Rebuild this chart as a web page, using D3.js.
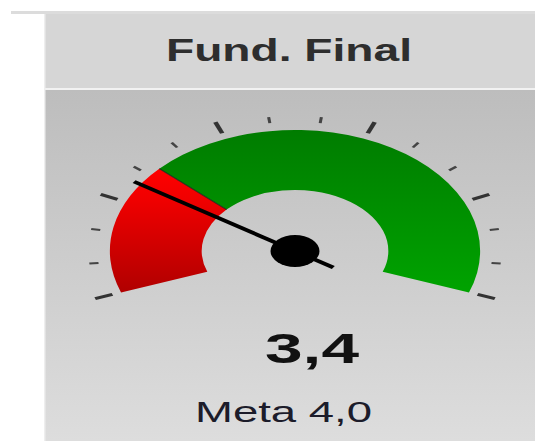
<!DOCTYPE html>
<html>
<head>
<meta charset="utf-8">
<script src="https://cdn.jsdelivr.net/npm/d3@7"></script>
<style>
  html, body { margin: 0; padding: 0; background: #fff; }
  svg { display: block; }
</style>
</head>
<body>
<svg id="chart"></svg>
<script>
// gauge data
const title = 'Fund. Final';
const scaleRange = [0, 14];
const bandLimits = [0, 4, 14];     // red up to the target, green after
const bandNames = ['below', 'above'];
const currentValue = [3.4];
const targetValue = [4.0];
const valueLabel = ['3,4'];
const targetLabel = ['Meta 4,0'];

const W = 535, H = 441;
const sx = 1.53;                  // the picture is stretched sideways
const vw = W / sx;

const svg = d3.select('#chart')
  .attr('width', W)
  .attr('height', H)
  .attr('viewBox', `0 0 ${vw} ${H}`)
  .attr('preserveAspectRatio', 'none');

const defs = svg.append('defs');

function vGrad(id, stops) {
  const g = defs.append('linearGradient')
    .attr('id', id)
    .attr('x1', 0).attr('y1', 0).attr('x2', 0).attr('y2', 1);
  stops.forEach(s => g.append('stop').attr('offset', s[0]).attr('stop-color', s[1]));
}
vGrad('bodyGrad', [[0, '#bdbdbd'], [1, '#dddddd']]);
vGrad('redGrad', [[0, '#ff0000'], [0.25, '#f00000'], [1, '#b00000']]);
vGrad('greenGrad', [[0, '#007c00'], [1, '#00a300']]);

// panel background
const left = 44 / sx;
svg.append('rect').attr('x', 11 / sx).attr('y', 11).attr('width', vw).attr('height', 3).attr('fill', '#dcdcdc');
svg.append('rect').attr('x', left).attr('y', 14).attr('width', vw).attr('height', 74).attr('fill', '#d6d6d6');
svg.append('rect').attr('x', left).attr('y', 88).attr('width', vw).attr('height', 2).attr('fill', '#f2f2f2');
svg.append('rect').attr('x', left).attr('y', 90).attr('width', vw).attr('height', H - 90).attr('fill', 'url(#bodyGrad)');
svg.append('rect').attr('x', left).attr('y', 14).attr('width', 1.5 / sx).attr('height', H - 14).attr('fill', '#eeeeee');

svg.append('text')
  .attr('x', 289 / sx).attr('y', 61)
  .attr('text-anchor', 'middle')
  .attr('font-family', 'Liberation Sans, Arial, sans-serif')
  .attr('font-weight', 'bold')
  .attr('font-size', 32)
  .attr('textLength', 246 / sx)
  .attr('lengthAdjust', 'spacingAndGlyphs')
  .attr('fill', '#2e2e2e')
  .text(title);

// gauge
const cx = 295 / sx, cy = 251;
const rOuter = 121, rInner = 61;
const deg = Math.PI / 180;
const angle = d3.scaleLinear().domain(scaleRange).range([-110 * deg, 110 * deg]);

const g = svg.append('g').attr('transform', `translate(${cx},${cy})`);

const arc = d3.arc().innerRadius(rInner).outerRadius(rOuter);
const bands = bandNames.map((name, i) => ({ name, from: bandLimits[i], to: bandLimits[i + 1] }));

g.selectAll('.band')
  .data(bands)
  .enter()
  .append('path')
  .attr('class', 'band')
  .attr('d', d => arc({ startAngle: angle(d.from), endAngle: angle(d.to) }))
  .attr('fill', d => d.name === 'below' ? 'url(#redGrad)' : 'url(#greenGrad)');

// thin seam between red and green
const pt = (v, r) => [Math.sin(angle(v)) * r, -Math.cos(angle(v)) * r];
g.append('line')
  .attr('x1', pt(targetValue[0], rInner)[0]).attr('y1', pt(targetValue[0], rInner)[1])
  .attr('x2', pt(targetValue[0], rOuter)[0]).attr('y2', pt(targetValue[0], rOuter)[1])
  .attr('stroke', '#1a1a1a').attr('stroke-opacity', 0.7).attr('stroke-width', 1);

// ticks: 5 major intervals, 2 minor ticks inside each
const nTicks = 15;
const tickVals = d3.range(nTicks + 1).map(i => scaleRange[0] + i * (scaleRange[1] - scaleRange[0]) / nTicks);
g.selectAll('.tick')
  .data(tickVals)
  .enter()
  .append('line')
  .attr('class', 'tick')
  .each(function(v, i) {
    const major = i % 3 === 0;
    const r0 = major ? 127 : 129, r1 = major ? 139 : 135;
    d3.select(this)
      .attr('x1', pt(v, r0)[0]).attr('y1', pt(v, r0)[1])
      .attr('x2', pt(v, r1)[0]).attr('y2', pt(v, r1)[1])
      .attr('stroke', major ? '#333' : '#444')
      .attr('stroke-width', major ? 3 : 2);
  });

// needle
g.append('line')
  .attr('x1', pt(currentValue[0], -30)[0]).attr('y1', pt(currentValue[0], -30)[1])
  .attr('x2', pt(currentValue[0], 126)[0]).attr('y2', pt(currentValue[0], 126)[1])
  .attr('stroke', '#000')
  .attr('stroke-width', 3.5);
g.append('circle').attr('r', 16).attr('fill', '#000');

// value and target
svg.append('text')
  .attr('x', 312 / sx).attr('y', 363)
  .attr('text-anchor', 'middle')
  .attr('font-family', 'Liberation Sans, Arial, sans-serif')
  .attr('font-weight', 'bold')
  .attr('font-size', 42)
  .attr('textLength', 94 / sx)
  .attr('lengthAdjust', 'spacingAndGlyphs')
  .attr('fill', '#111')
  .text(valueLabel[0]);

svg.append('text')
  .attr('x', 283.5 / sx).attr('y', 422)
  .attr('text-anchor', 'middle')
  .attr('font-family', 'Liberation Sans, Arial, sans-serif')
  .attr('font-size', 30)
  .attr('textLength', 177 / sx)
  .attr('lengthAdjust', 'spacingAndGlyphs')
  .attr('fill', '#1c1c2a')
  .text(targetLabel[0]);
</script>
</body>
</html>
